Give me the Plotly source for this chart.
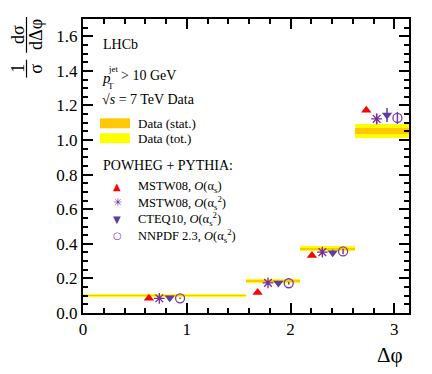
"""
LHCb dijet azimuthal separation: normalised dsigma/dDeltaphi with POWHEG+PYTHIA predictions.
"""

import math

import plotly.graph_objects as go

# bins in delta phi
bin_lo = [0.0, math.pi / 2, 2 * math.pi / 3, 5 * math.pi / 6]
bin_hi = [math.pi / 2, 2 * math.pi / 3, 5 * math.pi / 6, math.pi]

# measured values and uncertainties
data_val = [0.101, 0.185, 0.372, 1.052]
data_stat = [0.0015, 0.0015, 0.002, 0.015]
data_tot = [0.010, 0.011, 0.014, 0.040]

# predictions
mstw_lo = [0.086, 0.119, 0.333, 1.172]
mstw_lo_err = [0.0, 0.0, 0.0, 0.0]
mstw_nlo = [0.085, 0.174, 0.352, 1.122]
mstw_nlo_err = [0.004, 0.008, 0.016, 0.030]
cteq = [0.088, 0.174, 0.348, 1.145]
cteq_err = [0.004, 0.008, 0.018, 0.040]
nnpdf = [0.085, 0.172, 0.356, 1.128]
nnpdf_err = [0.004, 0.008, 0.016, 0.035]

# the page body has an 8px margin, so the figure is a bit smaller than the window
W, H = 424, 366
ML, MR, MT, MB = 75, 23, 9, 61
PL, PR, PT, PB = 83, 409, 17, 313  # plot box in window pixels


def px(x):
    return (x - PL) / (PR - PL)


def py(y):
    return (PB - y) / (PB - PT)


centers = [(a + b) / 2 for a, b in zip(bin_lo, bin_hi)]
widths = [b - a for a, b in zip(bin_lo, bin_hi)]

SERIF = "Liberation Serif, Times New Roman, serif"

fig = go.Figure()

# data bands: total then stat on top
fig.add_trace(go.Bar(
    x=centers, y=[2 * e for e in data_tot],
    base=[v - e for v, e in zip(data_val, data_tot)],
    width=widths, marker={"color": "#ffff00", "line": {"width": 0}},
    showlegend=False, hoverinfo="skip",
))
fig.add_trace(go.Bar(
    x=centers, y=[2 * e for e in data_stat],
    base=[v - e for v, e in zip(data_val, data_stat)],
    width=widths, marker={"color": "#ffc800", "line": {"width": 0}},
    showlegend=False, hoverinfo="skip",
))

RED = "#ff0000"
STAR = "#7a2c9e"
TRI = "#5f3ca0"
CIRC = "#7b3aa8"

models = [
    (mstw_lo, mstw_lo_err, -0.15,
     {"symbol": "triangle-up", "size": 9, "color": RED}),
    (mstw_nlo, mstw_nlo_err, -0.05,
     {"symbol": "asterisk-open", "size": 9, "color": STAR,
      "line": {"color": STAR, "width": 1.3}}),
    (cteq, cteq_err, 0.05,
     {"symbol": "triangle-down", "size": 9, "color": TRI}),
    (nnpdf, nnpdf_err, 0.15,
     {"symbol": "circle-open", "size": 9, "color": CIRC,
      "line": {"color": CIRC, "width": 1.3}}),
]

for vals, errs, off, marker in models:
    fig.add_trace(go.Scatter(
        x=[c + off for c in centers], y=vals, mode="markers",
        marker=marker, showlegend=False,
        error_y={"type": "data", "array": errs, "visible": True,
                 "color": marker["color"], "thickness": 1.5, "width": 0},
    ))

# text labels (window pixel positions)
texts = [
    ("LHCb", 101, 43, 14),
    ("<i>p</i>", 100, 76, 15),
    ("jet", 106, 67, 9),
    ("T", 106, 84.5, 9),
    ("> 10 GeV", 119, 74, 14),
    ("√<i>s</i> = 7 TeV Data", 100, 98.5, 14),
    ("Data (stat.)", 136, 122, 13),
    ("Data (tot.)", 136, 137, 13),
    ("POWHEG + PYTHIA:", 101, 164, 14),
    ("MSTW08, <i>O</i>(α<sub>s</sub>)", 136, 186, 12.5),
    ("MSTW08, <i>O</i>(α<sub>s</sub><sup>2</sup>)", 136, 202, 12.5),
    ("CTEQ10, <i>O</i>(α<sub>s</sub><sup>2</sup>)", 136, 218.5, 12.5),
    ("NNPDF 2.3, <i>O</i>(α<sub>s</sub><sup>2</sup>)", 136, 235, 12.5),
]
for t, x, y, s in texts:
    fig.add_annotation(
        text=t, x=px(x), y=py(y), xref="paper", yref="paper",
        xanchor="left", yanchor="middle", showarrow=False,
        font={"family": SERIF, "size": s, "color": "black"},
    )

# legend keys for the predictions
keys = [("▲", RED, 186, 10), ("✳", STAR, 202, 11),
        ("▼", TRI, 218.5, 10), ("○", CIRC, 235, 10)]
for g, col, y, s in keys:
    fig.add_annotation(
        text=g, x=px(117), y=py(y), xref="paper", yref="paper",
        xanchor="center", yanchor="middle", showarrow=False,
        font={"family": "DejaVu Sans", "size": s, "color": col},
    )

# legend boxes for the data bands
for y0, y1, col in [(117, 127, "#ffc800"), (132, 142, "#ffff00")]:
    fig.add_shape(type="rect", xref="paper", yref="paper",
                  x0=px(100), x1=px(130), y0=py(y1), y1=py(y0),
                  fillcolor=col, line={"width": 0})

# y axis title as a fraction, rotated
frac = [("dσ", 18, 33), ("dΔφ", 36, 33), ("1", 18, 67), ("σ", 36, 67)]
for t, x, y in frac:
    fig.add_annotation(
        text=t, x=px(x), y=py(y), xref="paper", yref="paper",
        xanchor="center", yanchor="middle", showarrow=False, textangle=-90,
        font={"family": SERIF, "size": 18, "color": "black"},
    )
for y0, y1 in [(15, 51), (58, 76)]:
    fig.add_shape(type="line", xref="paper", yref="paper",
                  x0=px(26.5), x1=px(26.5), y0=py(y0), y1=py(y1),
                  line={"color": "black", "width": 1.2})

fig.add_annotation(
    text="Δφ", x=px(390), y=py(355), xref="paper", yref="paper",
    xanchor="center", yanchor="middle", showarrow=False,
    font={"family": SERIF, "size": 21, "color": "black"},
)

axis_common = {
    "showline": True, "linecolor": "black", "linewidth": 2, "mirror": "allticks",
    "ticks": "inside", "ticklen": 10, "tickwidth": 2, "tickcolor": "black",
    "showgrid": False, "zeroline": False,
    "tickfont": {"family": SERIF, "size": 17, "color": "black"},
}

fig.update_layout(
    width=W, height=H,
    margin={"l": ML, "r": MR, "t": MT, "b": MB},
    plot_bgcolor="white", paper_bgcolor="white",
    font={"family": SERIF, "color": "black"},
    barmode="overlay", bargap=0,
    xaxis={**axis_common, "range": [0, math.pi], "dtick": 1, "tick0": 0,
           "minor": {"dtick": 0.2, "ticklen": 5, "tickwidth": 1.5,
                     "tickcolor": "black", "ticks": "inside"}},
    yaxis={**axis_common, "range": [0, 1.7], "dtick": 0.2, "tick0": 0,
           "tickformat": ".1f",
           "minor": {"dtick": 0.05, "ticklen": 5, "tickwidth": 1.5,
                     "tickcolor": "black", "ticks": "inside"}},
    showlegend=False,
)

fig.write_html("out.html")
